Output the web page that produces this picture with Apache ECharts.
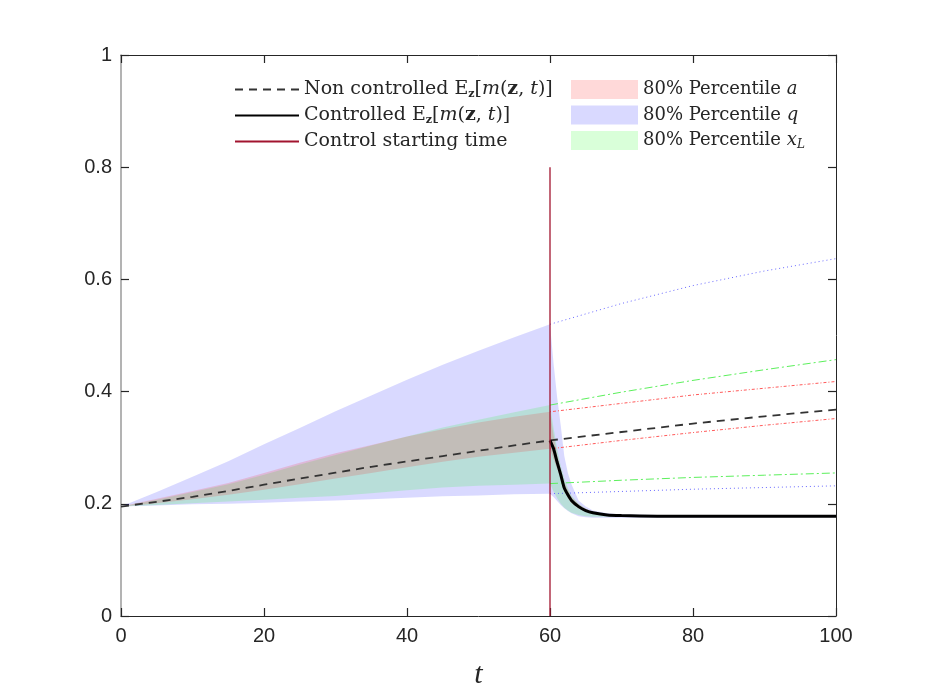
<!DOCTYPE html>
<html>
<head>
<meta charset="utf-8">
<script src="https://cdn.jsdelivr.net/npm/echarts@6/dist/echarts.min.js"></script>
<style>
  html, body { margin: 0; padding: 0; background: #fff; }
  #chart { width: 926px; height: 695px; }
</style>
</head>
<body>
<div id="chart"></div>
<script>
// time grid before control, after control, and for the free (non controlled) run
const tPre = [0, 5, 10, 15, 20, 25, 30, 35, 40, 45, 50, 55, 60];
const tCtrl = [60.5, 61, 61.5, 62, 62.5, 63, 64, 65, 66, 68, 70, 75, 100];
const tFree = [60, 70, 80, 90, 100];

// mean of m(z,t)
const meanPre = [0.195, 0.2035, 0.2125, 0.223, 0.234, 0.245, 0.2555, 0.266, 0.2755, 0.285, 0.2945, 0.304, 0.313];
const meanFree = [0.313, 0.328, 0.343, 0.356, 0.368];
const meanCtrl = [0.298, 0.274, 0.252, 0.228, 0.216, 0.206, 0.195, 0.188, 0.184, 0.180, 0.179, 0.178, 0.178];

// 80% percentile q
const qLowPre = [0.195, 0.197, 0.199, 0.200, 0.202, 0.204, 0.206, 0.208, 0.211, 0.2135, 0.215, 0.217, 0.218];
const qHighPre = [0.195, 0.221, 0.248, 0.276, 0.306, 0.335, 0.365, 0.393, 0.421, 0.448, 0.473, 0.497, 0.520];
const qLowCtrl = [0.212, 0.205, 0.198, 0.192, 0.187, 0.183, 0.178, 0.176, 0.175, 0.175, 0.175, 0.175, 0.176];
const qHighCtrl = [0.450, 0.390, 0.340, 0.285, 0.255, 0.235, 0.206, 0.195, 0.188, 0.183, 0.181, 0.180, 0.180];
const qLowFree = [0.218, 0.222, 0.226, 0.229, 0.232];
const qHighFree = [0.520, 0.557, 0.589, 0.615, 0.637];

// 80% percentile x_L
const xLowPre = [0.195, 0.198, 0.201, 0.204, 0.207, 0.211, 0.214, 0.219, 0.224, 0.229, 0.232, 0.234, 0.236];
const xHighPre = [0.195, 0.207, 0.221, 0.235, 0.252, 0.270, 0.287, 0.304, 0.320, 0.336, 0.350, 0.363, 0.376];
const xLowCtrl = [0.222, 0.210, 0.200, 0.193, 0.188, 0.184, 0.180, 0.178, 0.177, 0.177, 0.177, 0.177, 0.177];
const xHighCtrl = [0.335, 0.298, 0.268, 0.245, 0.228, 0.215, 0.200, 0.191, 0.186, 0.181, 0.180, 0.179, 0.179];
const xLowFree = [0.236, 0.242, 0.247, 0.251, 0.255];
const xHighFree = [0.376, 0.399, 0.420, 0.439, 0.457];

// 80% percentile a
const aLowPre = [0.195, 0.201, 0.208, 0.216, 0.225, 0.235, 0.245, 0.255, 0.265, 0.275, 0.284, 0.291, 0.298];
const aHighPre = [0.195, 0.209, 0.223, 0.237, 0.255, 0.273, 0.290, 0.305, 0.320, 0.333, 0.345, 0.355, 0.364];
const aLowCtrl = [0.280, 0.262, 0.244, 0.222, 0.210, 0.201, 0.191, 0.186, 0.182, 0.179, 0.178, 0.177, 0.177];
const aHighCtrl = [0.322, 0.288, 0.262, 0.238, 0.224, 0.212, 0.199, 0.191, 0.186, 0.181, 0.179, 0.179, 0.179];
const aLowFree = [0.298, 0.313, 0.327, 0.340, 0.352];
const aHighFree = [0.364, 0.379, 0.394, 0.406, 0.418];

const controlStart = 60;
const controlLine = [0, 0.8];
const yTicks = [0, 0.2, 0.4, 0.6, 0.8, 1];

const tBand = tPre.concat(tCtrl);
const pairs = (xs, ys) => xs.map((x, i) => [x, ys[i]]);

const ink = '#262626';
const serif = 'DejaVu Serif';
const sans = 'Liberation Sans';

// shaded band between low and high, drawn as one polygon through the grid's coords
function band(name, fill, low, high) {
  return {
    name: name, type: 'custom', silent: true,
    data: tBand.map((t, i) => [t, low[i], high[i]]),
    encode: { x: 0, y: [1, 2] },
    renderItem: (params, api) => {
      if (params.dataIndex !== 0) return null;
      const top = tBand.map((t, i) => api.coord([t, high[i]]));
      const bottom = tBand.map((t, i) => api.coord([t, low[i]])).reverse();
      return {
        type: 'polygon',
        shape: { points: top.concat(bottom) },
        style: { fill: fill, stroke: null }
      };
    }
  };
}

function freeLine(ys, color, type) {
  return {
    type: 'line', data: pairs(tFree, ys), symbol: 'none', silent: true,
    lineStyle: { color: color, width: 1, type: type }
  };
}

const nameMean = 'Non controlled';
const nameCtrl = 'Controlled';
const nameStart = 'Control starting time';
const nameA = '80% Percentile a';
const nameQ = '80% Percentile q';
const nameX = '80% Percentile xL';

const fillA = 'rgba(255,0,0,0.15)';
const fillQ = 'rgba(0,0,255,0.15)';
const fillX = 'rgba(0,255,0,0.15)';

function richSet(size) {
  return {
    r: { fontFamily: serif, fontSize: size, color: ink, lineHeight: 20 },
    i: { fontFamily: serif, fontSize: size, fontStyle: 'italic', color: ink, lineHeight: 20 },
    b: { fontFamily: serif, fontSize: size, fontWeight: 'bold', color: ink, lineHeight: 20 },
    s: { fontFamily: serif, fontSize: 11, fontWeight: 'bold', color: ink, verticalAlign: 'bottom', lineHeight: 14 },
    si: { fontFamily: serif, fontSize: 12, fontStyle: 'italic', color: ink, verticalAlign: 'bottom', lineHeight: 14 }
  };
}
const expect = '{r|E}{s|z}{r|[}{i|m}{r|(}{b|z}{r|, }{i|t}{r|)]}';
const labels = {};
labels[nameMean] = '{r|Non controlled }' + expect;
labels[nameCtrl] = '{r|Controlled }' + expect;
labels[nameStart] = '{r|Control starting time}';
labels[nameA] = '{r|80% Percentile }{i|a}';
labels[nameQ] = '{r|80% Percentile }{i|q}';
labels[nameX] = '{r|80% Percentile }{i|x}{si|L}';

const chart = echarts.init(document.getElementById('chart'));

const ticks = () => ({ show: true, inside: true, length: 8, lineStyle: { color: ink, width: 1.2 } });
const boxLine = () => ({ show: true, onZero: false, lineStyle: { color: ink, width: 1 } });

const option = {
  animation: false,
  backgroundColor: '#fff',
  grid: { left: 121, right: 90, top: 55, bottom: 79 },
  legend: [
    {
      data: [
        { name: nameMean, itemStyle: { opacity: 0 } },
        { name: nameCtrl, itemStyle: { opacity: 0 } },
        { name: nameStart, itemStyle: { opacity: 0 } }
      ],
      orient: 'vertical', left: 229, top: 75,
      itemWidth: 64, itemHeight: 14, itemGap: 6.5, itemTextGap: 10,
      formatter: n => labels[n], textStyle: { rich: richSet(19) }, selectedMode: false
    },
    {
      data: [
        { name: nameA, icon: 'rect', itemStyle: { color: fillA } },
        { name: nameQ, icon: 'rect', itemStyle: { color: fillQ } },
        { name: nameX, icon: 'rect', itemStyle: { color: fillX } }
      ],
      orient: 'vertical', left: 566, top: 75,
      itemWidth: 67, itemHeight: 19, itemGap: 6.5, itemTextGap: 5,
      formatter: n => labels[n], textStyle: { rich: richSet(18) }, selectedMode: false
    }
  ],
  xAxis: [
    {
      type: 'value', min: 0, max: 100, interval: 20, position: 'bottom',
      axisLine: { show: true, lineStyle: { color: ink, width: 1 } },
      axisTick: ticks(),
      axisLabel: { fontFamily: sans, fontSize: 20, color: ink, margin: 10 },
      splitLine: { show: false },
      name: 't', nameLocation: 'middle', nameGap: 44,
      nameTextStyle: { fontFamily: 'Liberation Serif', fontStyle: 'italic', fontSize: 30, color: ink }
    },
    {
      type: 'value', min: 0, max: 100, interval: 20, position: 'top',
      axisLine: boxLine(), axisTick: ticks(),
      axisLabel: { show: false }, splitLine: { show: false }
    }
  ],
  yAxis: [
    {
      type: 'value', min: 0, max: 1, interval: 0.2, position: 'left',
      axisLine: { show: true, lineStyle: { color: '#9a9a9a', width: 1.5 } },
      axisTick: ticks(),
      axisLabel: { fontFamily: sans, fontSize: 20, color: ink, margin: 9,
        formatter: v => yTicks.includes(+v.toFixed(1)) ? String(+v.toFixed(1)) : '' },
      splitLine: { show: false }
    },
    {
      type: 'value', min: 0, max: 1, interval: 0.2, position: 'right',
      axisLine: boxLine(), axisTick: ticks(),
      axisLabel: { show: false }, splitLine: { show: false }
    }
  ],
  series: [
    band(nameQ, fillQ, qLowPre.concat(qLowCtrl), qHighPre.concat(qHighCtrl)),
    band(nameX, fillX, xLowPre.concat(xLowCtrl), xHighPre.concat(xHighCtrl)),
    band(nameA, fillA, aLowPre.concat(aLowCtrl), aHighPre.concat(aHighCtrl)),
    freeLine(qHighFree, '#6a6aff', [1, 3]),
    freeLine(qLowFree, '#6a6aff', [1, 3]),
    freeLine(xHighFree, '#5cf05c', [8, 3, 2, 3]),
    freeLine(xLowFree, '#5cf05c', [8, 3, 2, 3]),
    freeLine(aHighFree, '#ff5a5a', [1, 2, 3, 2]),
    freeLine(aLowFree, '#ff5a5a', [1, 2, 3, 2]),
    {
      name: nameMean, type: 'line', symbol: 'none', silent: true,
      data: pairs(tPre.concat(tFree.slice(1)), meanPre.concat(meanFree.slice(1))),
      color: '#333333',
      lineStyle: { color: '#333333', width: 1.8, type: [8, 6] }
    },
    {
      name: nameCtrl, type: 'line', symbol: 'none', silent: true,
      data: pairs([controlStart].concat(tCtrl), [meanPre[meanPre.length - 1]].concat(meanCtrl)),
      color: '#000000', smooth: 0.2,
      lineStyle: { color: '#000000', width: 3 }
    },
    {
      name: nameStart, type: 'line', symbol: 'none', silent: true,
      data: controlLine.map(v => [controlStart, v]),
      color: '#a2142f',
      lineStyle: { color: '#a2142f', width: 1.3 }
    }
  ]
};

chart.setOption(option);
window.addEventListener('resize', () => chart.resize());
</script>
</body>
</html>
